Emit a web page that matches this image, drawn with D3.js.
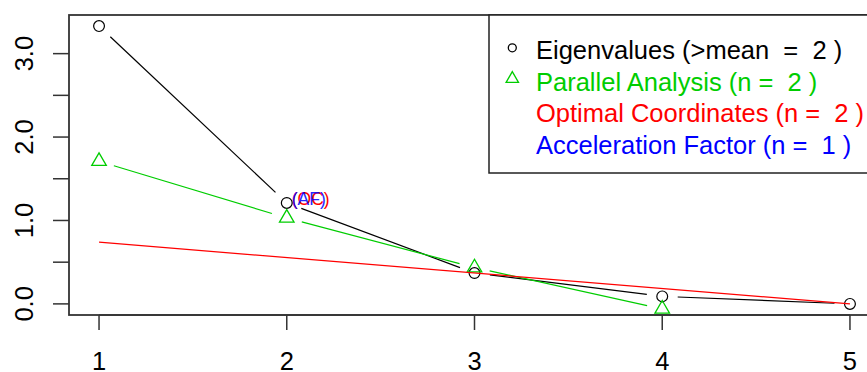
<!DOCTYPE html>
<html><head><meta charset="utf-8">
<script src="https://cdn.jsdelivr.net/npm/d3@7"></script>
<style>
html,body{margin:0;padding:0;background:#fff;}
svg{display:block;}
text{font-family:"Liberation Sans",Arial,sans-serif;}
</style></head>
<body>
<svg id="c" width="867" height="372"></svg>
<script>
// ---- data ----
const components = [1, 2, 3, 4, 5];
const eigenvalues = [3.33, 1.21, 0.37, 0.09, 0.00];
const parallelAnalysis = [1.71, 1.03, 0.435, -0.06, null];
const xTicks = [1, 2, 3, 4, 5];
const yTicks = [0, 0.5, 1, 1.5, 2, 2.5, 3];
const yLabels = ["0.0", "", "1.0", "", "2.0", "", "3.0"];
const nOC = 2, nAF = 1;
const legendLabels = ["Eigenvalues (>mean  =  2 )", "Parallel Analysis (n =  2 )", "Optimal Coordinates (n =  2 )", "Acceleration Factor (n =  1 )"];
const legendColors = ["#000000", "#00CD00", "#FF0000", "#0000FF"];
const legendPch = ["circle", "triangle", null, null];

// ---- layout ----
const svg = d3.select("#c");
const L = 69, T = 15, R = 880, B = 315;
const fs = 25.5;

function rExpand(ext){ const r = ext[1]-ext[0]; return [ext[0]-0.04*r, ext[1]+0.04*r]; }
const x = d3.scaleLinear().domain(rExpand(d3.extent(components))).range([L, R]);
const y = d3.scaleLinear().domain(rExpand(d3.extent(eigenvalues))).range([B, T]);

svg.append("defs").append("clipPath").attr("id","pc")
  .append("rect").attr("x",L).attr("y",T).attr("width",R-L).attr("height",B-T);

const plot = svg.append("g").attr("clip-path","url(#pc)");

const rad = 5.4;
function triPath(cx, cy, u){
  const r = 1.5551203*u, xc = 1.3467737*u, yc = 0.7775602*u;
  return `M${cx},${cy-r}L${cx+xc},${cy+yc}L${cx-xc},${cy+yc}Z`;
}

// labels (OC) and (AF)
plot.append("text").attr("x", x(nOC)+5).attr("y", y(eigenvalues[nOC-1])+2)
  .attr("font-size", 17.5).attr("fill","#FF0000").text("(OC)");
plot.append("text").attr("x", x(nAF+1)+5).attr("y", y(eigenvalues[nAF])+2)
  .attr("font-size", 17.5).attr("fill","#0000FF").attr("opacity",0.85).text("(AF)");

// type "b" lines with gaps
const gap = 15.5;
function typeB(vals, color, pch){
  const pts = components.map((c,i)=>vals[i]==null?null:[x(c), y(vals[i])]);
  for(let i=1;i<pts.length;i++){
    const a = pts[i-1], b = pts[i];
    if(!a||!b) continue;
    const dx=b[0]-a[0], dy=b[1]-a[1], d=Math.hypot(dx,dy), f=gap/d;
    if(f<0.5){
      plot.append("line").attr("x1",a[0]+f*dx).attr("y1",a[1]+f*dy)
        .attr("x2",b[0]-f*dx).attr("y2",b[1]-f*dy)
        .attr("stroke",color).attr("stroke-width",1.2);
    }
  }
  pts.forEach(p=>{
    if(!p) return;
    if(pch==="circle") plot.append("circle").attr("cx",p[0]).attr("cy",p[1]).attr("r",rad)
      .attr("fill","none").attr("stroke",color).attr("stroke-width",1.2);
    else plot.append("path").attr("d",triPath(p[0],p[1],rad)).attr("fill","none")
      .attr("stroke",color).attr("stroke-width",1.3);
  });
}
typeB(eigenvalues, "#000000", "circle");
typeB(parallelAnalysis, "#00CD00", "triangle");

// optimal coordinates segment: line through eig[noc+1] and eig[nk]
const nk = components.length;
const k1 = nOC+1, e1 = eigenvalues[nOC], e2 = eigenvalues[nk-1];
const slope = (e2-e1)/(nk-k1);
const ocAt = k => e1 + slope*(k-k1);
plot.append("line").attr("x1",x(1)).attr("y1",y(ocAt(1))).attr("x2",x(nk)).attr("y2",y(ocAt(nk)))
  .attr("stroke","#FF0000").attr("stroke-width",1.2);

// axes
const axG = svg.append("g");
axG.append("line").attr("x1",x(xTicks[0])).attr("x2",x(xTicks[xTicks.length-1])).attr("y1",B).attr("y2",B).attr("stroke","#333").attr("stroke-width",1.5);
xTicks.forEach(t=>{
  axG.append("line").attr("x1",x(t)).attr("x2",x(t)).attr("y1",B).attr("y2",B+15).attr("stroke","#333").attr("stroke-width",1.5);
  axG.append("text").attr("x",x(t)).attr("y",370).attr("text-anchor","middle").attr("font-size",fs).attr("fill","#000").text(t);
});
yTicks.forEach((t,i)=>{
  axG.append("line").attr("x1",L-16).attr("x2",L).attr("y1",y(t)).attr("y2",y(t)).attr("stroke","#333").attr("stroke-width",1.5);
  if(yLabels[i]) axG.append("text").attr("transform",`translate(33,${y(t)}) rotate(-90)`)
    .attr("text-anchor","middle").attr("font-size",fs).attr("fill","#000").text(yLabels[i]);
});

// box
svg.append("rect").attr("x",L).attr("y",T).attr("width",R-L).attr("height",B-T)
  .attr("fill","none").attr("stroke","#333").attr("stroke-width",1.8);

// legend
const lg = svg.append("g");
lg.append("rect").attr("x",489).attr("y",T).attr("width",R-489).attr("height",173-T)
  .attr("fill","#fff").attr("stroke","#222").attr("stroke-width",1.5);
const rowY = d3.scaleLinear().domain([0,3]).range([59.3,153.8]);
legendLabels.forEach((lab,i)=>{
  const by = rowY(i);
  lg.append("text").attr("x",536).attr("y",by).attr("font-size",fs).attr("fill",legendColors[i])
    .style("white-space","pre").text(lab);
  if(legendPch[i]==="circle") lg.append("circle").attr("cx",512.3).attr("cy",by-11.5).attr("r",4)
    .attr("fill","none").attr("stroke",legendColors[i]).attr("stroke-width",1.3);
  else if(legendPch[i]==="triangle") lg.append("path").attr("d",triPath(512.3,by-12,4.6))
    .attr("fill","none").attr("stroke",legendColors[i]).attr("stroke-width",1.3);
});
</script>
</body></html>
